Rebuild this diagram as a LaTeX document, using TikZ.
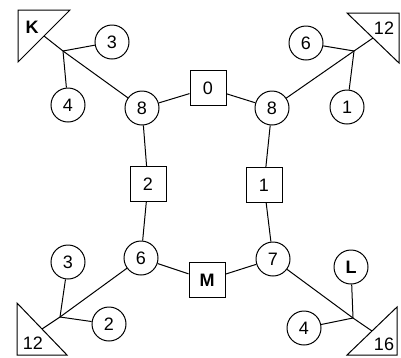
\documentclass[tikz,border=0pt]{standalone}
\usepackage{fontspec}
\setmainfont{Liberation Sans}
\usepackage{tikz}

\begin{document}
\begin{tikzpicture}[
    x=1pt, y=-1pt,
    line width=1pt,
    vertex/.style={circle, draw, minimum size=34pt, inner sep=0pt, font=\fontsize{18}{20}\selectfont},
    link/.style={rectangle, draw, minimum width=36pt, minimum height=35pt, inner sep=0pt, font=\fontsize{18}{20}\selectfont},
    tag/.style={inner sep=0pt, font=\fontsize{18}{20}\selectfont}
]
\useasboundingbox (0,0) rectangle (401,357);

% terminal triangles
\draw[line join=miter] (18,10) -- (70,10) -- (18,62) -- cycle;
\draw[line join=miter] (347,13) -- (399,13) -- (399,63) -- cycle;
\draw[line join=miter] (17,303) -- (17,355) -- (67,355) -- cycle;
\draw[line join=miter] (397,307) -- (397,355) -- (347,355) -- cycle;
\node [tag] (K) at (32,27) {\bfseries K};
\node [tag] (tTR) at (384,28) {12};
\node [tag] (tBL) at (33,343) {12};
\node [tag] (tBR) at (384,344) {16};
\coordinate (hK) at (44,36);
\coordinate (hTR) at (373,38);
\coordinate (hBL) at (42,329);
\coordinate (hBR) at (372,331);

% junctions
\coordinate (jK) at (63,51);
\coordinate (jTR) at (354,51);
\coordinate (jBL) at (60,317);
\coordinate (jBR) at (353,318);

% ring
\node [vertex] (a8) at (142,108) {8};
\node [link] (e0) at (208,88) {0};
\node [vertex] (b8) at (272,108) {8};
\node [link] (e2) at (148,184) {2};
\node [link] (e1) at (264,185) {1};
\node [vertex] (c6) at (141,258) {6};
\node [link] (eM) at (207,280) {\bfseries M};
\node [vertex] (d7) at (273,259) {7};

% leaves
\node [vertex] (k3) at (112,42) {3};
\node [vertex] (k4) at (68,105) {4};
\node [vertex] (r6) at (306,43) {6};
\node [vertex] (r1) at (347,107) {1};
\node [vertex] (l3) at (68,262) {3};
\node [vertex] (l2) at (109,324) {2};
\node [vertex] (sL) at (351,267) {\bfseries L};
\node [vertex] (s4) at (304,328) {4};

\draw (a8) -- (e0) -- (b8) -- (e1) -- (d7) -- (eM) -- (c6) -- (e2) -- (a8);
\draw (a8) -- (jK) -- (hK);
\draw (jK) -- (k3);
\draw (jK) -- (k4);
\draw (b8) -- (jTR) -- (hTR);
\draw (jTR) -- (r6);
\draw (jTR) -- (r1);
\draw (c6) -- (jBL) -- (hBL);
\draw (jBL) -- (l3);
\draw (jBL) -- (l2);
\draw (d7) -- (jBR) -- (hBR);
\draw (jBR) -- (sL);
\draw (jBR) -- (s4);

\end{tikzpicture}
\end{document}
